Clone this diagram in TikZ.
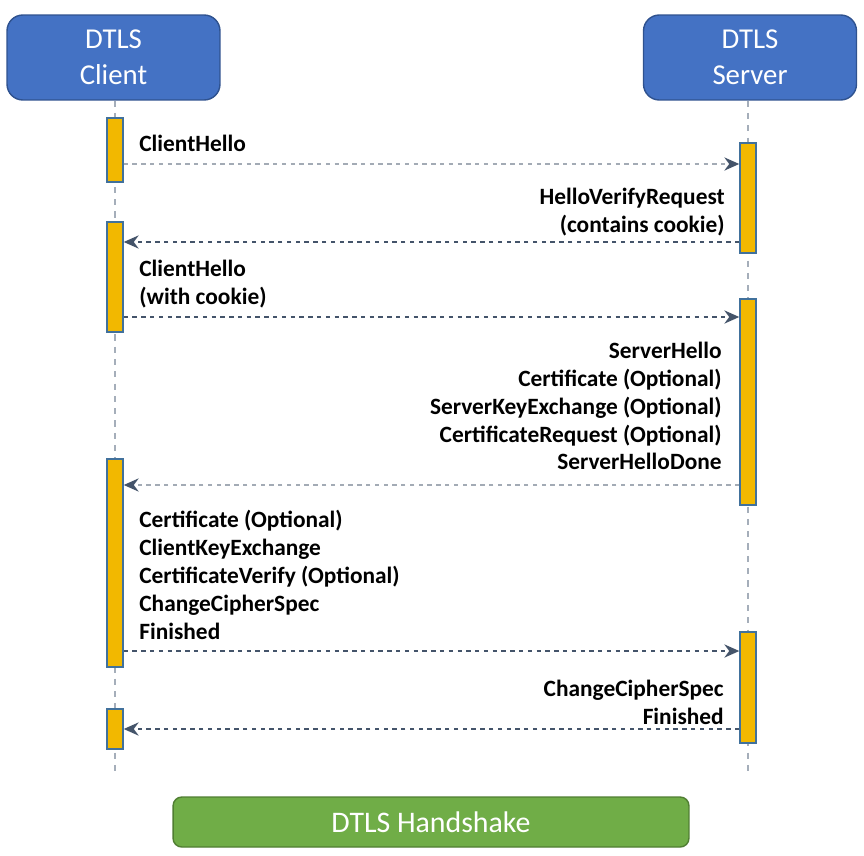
\documentclass[tikz,border=0pt]{standalone}
\usepackage{fontspec}
\setmainfont{Carlito}
\usetikzlibrary{positioning,arrows.meta}

\definecolor{hdrblue}{HTML}{4472C4}
\definecolor{hdrline}{HTML}{2F528F}
\definecolor{hsgreen}{HTML}{70AD47}
\definecolor{hsline}{HTML}{507E32}
\definecolor{bargold}{HTML}{F2B800}
\definecolor{barline}{HTML}{41719C}
\definecolor{lifegray}{HTML}{A5AEBA}
\definecolor{darkarr}{HTML}{44546A}
\definecolor{lightarr}{HTML}{A3ABB5}

\begin{document}
\begin{tikzpicture}[x=0.02cm, y=-0.02cm,
    party/.style = {draw=hdrline, fill=hdrblue, rounded corners=9pt, text=white,
      minimum width=4.26cm, minimum height=1.7cm, align=center,
      font=\fontsize{16.4}{20.4}\selectfont, line width=0.8pt},
    bar/.style = {draw=barline, fill=bargold, minimum width=0.32cm, inner sep=0,
      line width=0.8pt},
    life/.style = {draw=lifegray, line width=0.9pt, dash pattern=on 3.5pt off 3.5pt},
    msg/.style = {-{Stealth[length=8.5pt,width=7.5pt,color=darkarr]}, line width=1.1pt,
      dash pattern=on 2.5pt off 2.5pt},
    lbl/.style = {font=\bfseries\fontsize{13.3}{15.9}\selectfont, inner sep=0},
  ]
    \useasboundingbox (0,0) rectangle (864,855);

    \node[party] (client) at (113.5,57.5) {DTLS\\Client};
    \node[party] (server) at (750,57.5) {DTLS\\Server};

    \coordinate (cend) at (115,775);
    \coordinate (send) at (748,775);
    \draw[life] (client.south -| cend) -- (cend);
    \draw[life] (server.south -| send) -- (send);

    % activation bars
    \node[bar, minimum height=1.28cm] (c1) at (115,150) {};
    \node[bar, minimum height=2.2cm]  (c2) at (115,277) {};
    \node[bar, minimum height=4.16cm] (c3) at (115,563) {};
    \node[bar, minimum height=0.8cm]  (c4) at (115,729) {};
    \node[bar, minimum height=2.2cm]  (s1) at (748,198) {};
    \node[bar, minimum height=4.12cm] (s2) at (748,402) {};
    \node[bar, minimum height=2.22cm] (s3) at (748,687.5) {};

    % messages
    \node[lbl, anchor=west] (m1) at (139,143) {ClientHello};
    \draw[msg, lightarr] (c1.east |- 0,164) -- (s1.west |- 0,164);

    \node[lbl, anchor=east, align=right] (m2) at (725,212) {HelloVerifyRequest\\(contains cookie)};
    \draw[msg, darkarr] (s1.west |- 0,242) -- (c2.east |- 0,242);

    \node[lbl, anchor=west, align=left] (m3) at (139,284) {ClientHello\\(with cookie)};
    \draw[msg, darkarr] (c2.east |- 0,317) -- (s2.west |- 0,317);

    \node[lbl, anchor=east, align=right] (m4) at (722,406)
      {ServerHello\\Certificate (Optional)\\ServerKeyExchange (Optional)\\CertificateRequest (Optional)\\ServerHelloDone};
    \draw[msg, lightarr] (s2.west |- 0,485) -- (c3.east |- 0,485);

    \node[lbl, anchor=west, align=left] (m5) at (139,575)
      {Certificate (Optional)\\ClientKeyExchange\\CertificateVerify (Optional)\\ChangeCipherSpec\\Finished};
    \draw[msg, darkarr] (c3.east |- 0,651) -- (s3.west |- 0,651);

    \node[lbl, anchor=east, align=right] (m6) at (724,702) {ChangeCipherSpec\\Finished};
    \draw[msg, darkarr] (s3.west |- 0,729) -- (c4.east |- 0,729);

    \node[draw=hsline, fill=hsgreen, rounded corners=5pt, text=white, line width=0.8pt,
      minimum width=10.32cm, minimum height=1cm, font=\fontsize{17}{20.4}\selectfont]
      (title) at (431,822) {DTLS Handshake};
  \end{tikzpicture}
\end{document}
